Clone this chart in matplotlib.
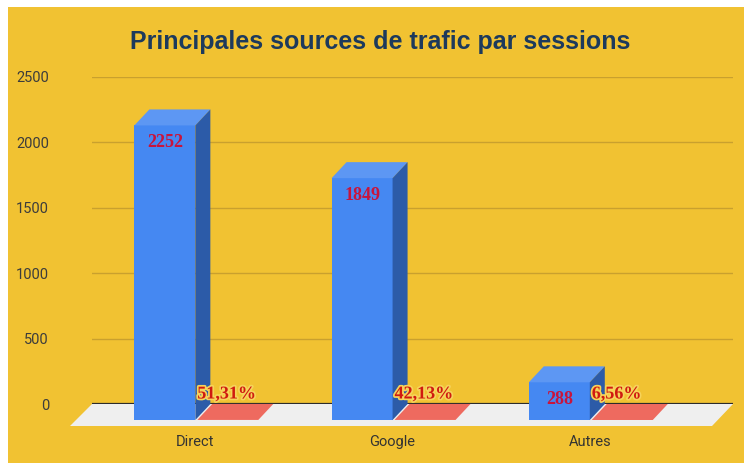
import numpy as np
import matplotlib.pyplot as plt
from matplotlib.patches import Polygon, Rectangle
import matplotlib.patheffects as pe

# data
sources = ["Direct", "Google", "Autres"]
sessions = [2252, 1849, 288]
share = [0.5131, 0.4213, 0.0656]
share_labels = ["51,31%", "42,13%", "6,56%"]
yticks = [0, 500, 1000, 1500, 2000, 2500]

yellow = "#F1C232"
blue_front, blue_top, blue_side = "#4588F2", "#5D97F3", "#2C5BA8"
red_top = "#EE6A5F"

W, H = 744, 463
fig = plt.figure(figsize=(W / 100, H / 100), dpi=100)
fig.patch.set_facecolor("white")
fig.patches.append(Rectangle((8 / W, 0), 1, 1 - 7 / H, transform=fig.transFigure,
                             facecolor=yellow, edgecolor="none", zorder=-10))

# axes = back wall of the 3D box (pixels 92..733, 77..404)
ax = fig.add_axes([92 / W, (H - 404) / H, (733 - 92) / W, (404 - 77) / H])
ax.patch.set_alpha(0)
xmin, xmax = -0.6, 2.65
ax.set_xlim(xmin, xmax)
ax.set_ylim(0, 2500)

ppx = (733 - 92) / (xmax - xmin)   # pixels per x unit
ppy = (404 - 77) / 2500            # pixels per y unit
fx, fy = -15 / ppx, -16 / ppy      # depth offset (front plane)
w = 61 / ppx                       # bar width

# floor
floor = Polygon([(xmin, 0), (xmax, 0), (xmax - 21 / ppx, -22 / ppy), (xmin - 22 / ppx, -22 / ppy)],
                closed=True, facecolor="#EFEFEF", edgecolor="none", clip_on=False, zorder=1)
ax.add_patch(floor)

ax.set_yticks(yticks)
ax.yaxis.grid(True, color="#C9A02E", lw=1)
ax.set_axisbelow(True)
ax.axhline(0, color="#2B2B2B", lw=1.6, zorder=2)
for s in ax.spines.values():
    s.set_visible(False)
ax.tick_params(length=0)
ax.tick_params(axis="y", pad=31, labelsize=10.5, labelcolor="#3C3C3C")
ax.set_xticks([])
for lab in ax.get_yticklabels():
    lab.set_fontfamily("Roboto")


def box(x0, v, face, top, side):
    x1 = x0 + w
    ax.bar(x0, v, w, bottom=fy, align="edge", color=face, clip_on=False, zorder=3)
    ax.add_patch(Polygon([(x0, v + fy), (x1, v + fy), (x1 - fx, v), (x0 - fx, v)],
                         facecolor=top, edgecolor="none", clip_on=False, zorder=3))
    if side is not None:
        ax.add_patch(Polygon([(x1, fy), (x1, v + fy), (x1 - fx, v), (x1 - fx, 0)],
                             facecolor=side, edgecolor="none", clip_on=False, zorder=3))


x = np.arange(len(sources))
for i in x:
    box(i + fx - w, sessions[i], blue_front, blue_top, blue_side)
    box(i + fx + 0.01, share[i], red_top, red_top, None)

    ax.annotate(str(sessions[i]), (i + fx - w / 2, sessions[i] + fy), xytext=(0, -17),
                textcoords="offset pixels", ha="center", va="center",
                fontsize=13, fontweight="bold", family="Liberation Serif",
                color="#C8143C", zorder=5, annotation_clip=False)
    ax.annotate(share_labels[i], (i + fx + 0.01, fy), xytext=(0, 26),
                textcoords="offset pixels", ha="left", va="center",
                fontsize=13, fontweight="bold", family="Liberation Serif",
                color="#D01A10", zorder=5, annotation_clip=False,
                path_effects=[pe.withStroke(linewidth=2.5, foreground="#F6D35A")])
    ax.annotate(sources[i], (i + fx, fy), xytext=(0, -22),
                textcoords="offset pixels", ha="center", va="center",
                fontsize=10.5, family="Roboto", color="#333333",
                annotation_clip=False)

fig.text(380 / W, 1 - 42 / H, "Principales sources de trafic par sessions",
         ha="center", va="center", fontsize=18, fontweight="bold",
         family="Liberation Sans", color="#1D3A5C")

fig.savefig("out.png", dpi=100)
